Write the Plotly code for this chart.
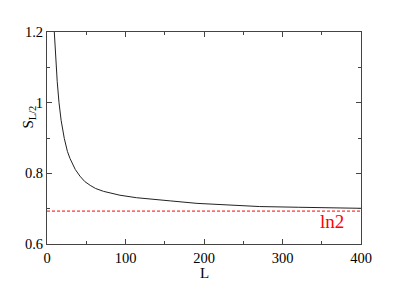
import math
import plotly.graph_objects as go

# Data
L_vals = [9.3, 10, 11.5, 13, 15.3, 18, 22, 26, 29.3, 33, 36, 42, 48, 55, 62, 72, 82, 93,
          114, 135, 157, 191, 230, 271, 320, 360, 400]
S_vals = [1.200, 1.170, 1.110, 1.060, 1.000, 0.950, 0.899, 0.862, 0.842, 0.823, 0.811,
          0.792, 0.777, 0.766, 0.757, 0.749, 0.743, 0.738, 0.731, 0.726, 0.722, 0.715,
          0.710, 0.706, 0.704, 0.702, 0.701]
ln2_value = math.log(2)
x_ticks = [0, 100, 200, 300, 400]
y_ticks = [0.6, 0.8, 1.0, 1.2]
y_tick_labels = ["0.6", "0.8", "1", "1.2"]

FONT = "Liberation Serif, Times New Roman, serif"

fig = go.Figure()
fig.add_trace(go.Scatter(x=L_vals, y=S_vals, mode="lines",
                         line=dict(color="#222", width=1), showlegend=False,
                         hoverinfo="skip"))
fig.add_trace(go.Scatter(x=[0, 400], y=[ln2_value, ln2_value], mode="lines",
                         line=dict(color="#ff0000", width=1, dash="3px,2px"),
                         showlegend=False, hoverinfo="skip"))

axis_common = dict(showgrid=False, zeroline=False, showline=True, linecolor="#444",
                   linewidth=1.2, mirror="ticks", ticks="inside", ticklen=5,
                   tickwidth=1, tickcolor="#444",
                   tickfont=dict(family=FONT, size=14.5, color="black"))

fig.update_xaxes(range=[0, 400], tickvals=x_ticks,
                 minor=dict(dtick=50, tick0=0, ticks="inside", ticklen=3, tickcolor="#444"),
                 **axis_common)
fig.update_yaxes(range=[0.6, 1.2], tickvals=y_ticks, ticktext=y_tick_labels,
                 minor=dict(dtick=0.1, tick0=0.6, ticks="inside", ticklen=3, tickcolor="#444"),
                 **axis_common)

fig.add_annotation(x=363, y=0.663, xref="x", yref="y", text="ln2", showarrow=False,
                   font=dict(family=FONT, size=19, color="#ff0000"))
fig.add_annotation(x=0.5, y=-0.135, xref="paper", yref="paper", text="L", showarrow=False,
                   yanchor="middle", font=dict(family=FONT, size=15, color="black"))
fig.add_annotation(x=-0.058, y=0.6, xref="paper", yref="paper", text="S<sub>L/2</sub>",
                   textangle=-90, showarrow=False, xanchor="center", yanchor="middle",
                   font=dict(family=FONT, size=15, color="black"))

# page body has an 8px default margin, so the figure is offset by (8, 8)
fig.update_layout(width=407, height=286, margin=dict(l=39, r=54, t=24, b=50),
                  font=dict(family=FONT, color="black"),
                  plot_bgcolor="white", paper_bgcolor="white")

fig.write_html("out.html")
